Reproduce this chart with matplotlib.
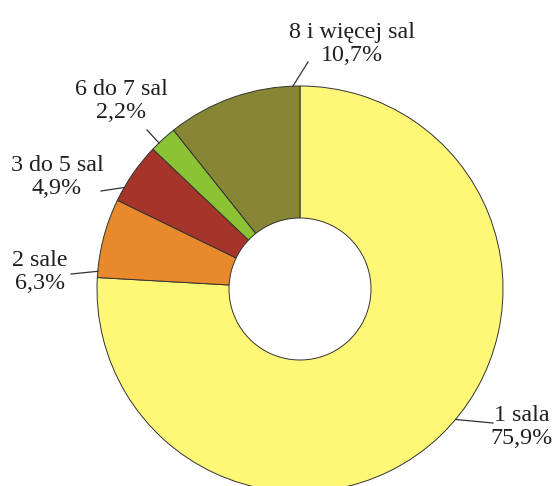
import matplotlib.pyplot as plt
import numpy as np

# dane: udział kin wg liczby sal
categories = ['1 sala', '2 sale', '3 do 5 sal', '6 do 7 sal', '8 i więcej sal']
shares = [75.9, 6.3, 4.9, 2.2, 10.7]
colors = ['#FFF776', '#E8892B', '#A5342B', '#8BC334', '#868634']

# uklad w pikselach (figura 558x486)
W, H = 558, 486
cx, cy = 300, H - 289
r_out, r_in = 203, 71

# punkt zaczepienia linii (kat na obwodzie) i polozenie etykiety
anchor_deg = [-40, 175, 150, 134, 92]
line_end = [(493, 423), (71, 274), (101, 191), (147, 130), (308, 62)]
label_pos = [(522, 427), (40, 272), (57, 177), (121, 101), (352, 44)]

fig = plt.figure(figsize=(W / 100, H / 100), dpi=100)
ax = fig.add_axes([0, 0, 1, 1])

ax.pie(shares, colors=colors, radius=r_out, center=(cx, cy),
       startangle=90, counterclock=False,
       wedgeprops=dict(width=r_out - r_in, edgecolor='#333333', linewidth=0.7))

for cat, val, ang, (ex, ey), (lx, ly) in zip(categories, shares, anchor_deg, line_end, label_pos):
    a = np.deg2rad(ang)
    x0 = cx + r_out * np.cos(a)
    y0 = cy + r_out * np.sin(a)
    ax.plot([x0, ex], [y0, H - ey], color='#333333', linewidth=0.9)
    txt = f"{cat}\n{val:.1f}%".replace('.', ',')
    ax.text(lx, H - ly, txt, ha='center', va='center', fontsize=17.3,
            family='Liberation Serif', color='#231f20', linespacing=1.15)

ax.set_xlim(0, W)
ax.set_ylim(0, H)
ax.set_aspect('equal')
ax.axis('off')

fig.savefig('out.png', dpi=100)
